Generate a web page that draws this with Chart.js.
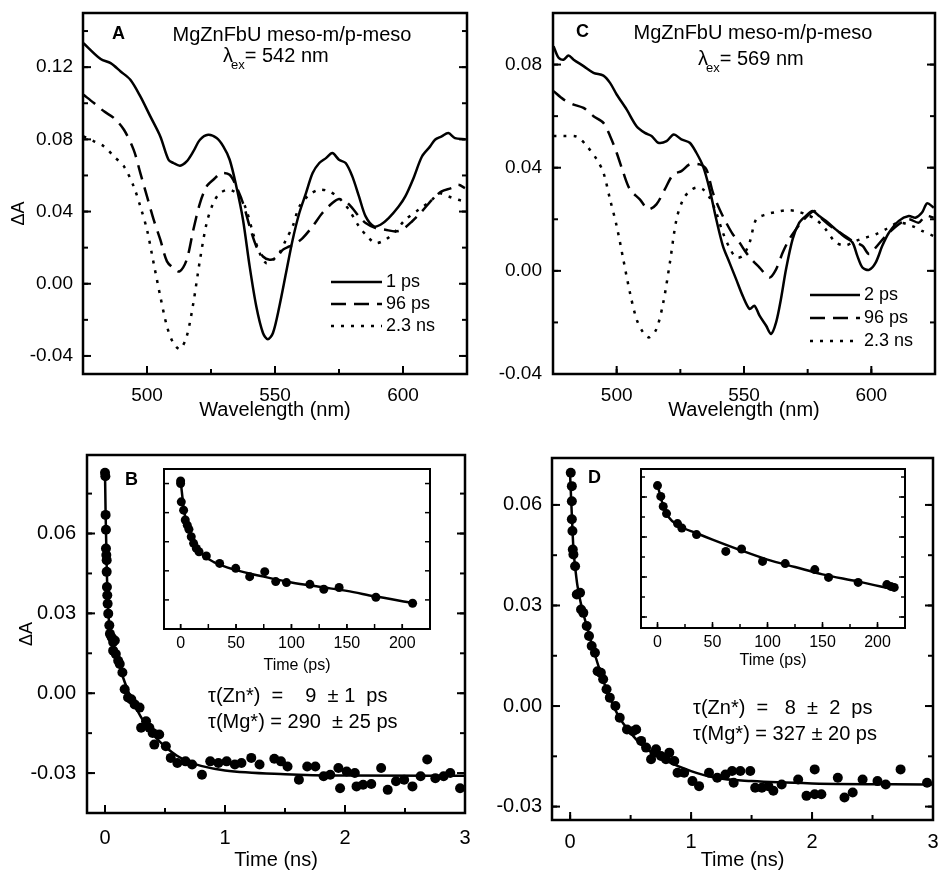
<!DOCTYPE html>
<html>
<head>
<meta charset="utf-8">
<script src="https://cdn.jsdelivr.net/npm/chart.js@4.4.1/dist/chart.umd.min.js"></script>
<style>
  body { margin: 0; background: #fff; }
  #wrap { position: relative; width: 938px; height: 872px; }
  canvas { position: absolute; }
</style>
</head>
<body>
<div id="wrap">
  <canvas id="chartA" width="470" height="430" style="left:0;top:0"></canvas>
  <canvas id="chartC" width="468" height="430" style="left:470px;top:0"></canvas>
  <canvas id="chartB" width="470" height="442" style="left:0;top:430px"></canvas>
  <canvas id="chartD" width="468" height="442" style="left:470px;top:430px"></canvas>
  <canvas id="insetB" width="305" height="215" style="left:130px;top:460px"></canvas>
  <canvas id="insetD" width="310" height="215" style="left:600px;top:460px"></canvas>
</div>
<script>
// Spectra, panel A (excitation 542 nm): [wavelength nm, deltaA]
const specA_1ps = [[475.2,0.1333],[481.9,0.1245],[485.8,0.1222],[489.7,0.1176],[493.5,0.113],[497.4,0.1038],[501.3,0.0927],[505.2,0.0816],[508.4,0.0687],[510.3,0.0669],[512.9,0.0654],[515.5,0.0678],[518.1,0.0733],[520.7,0.0798],[523.9,0.0825],[527.2,0.0807],[529.8,0.0761],[532.3,0.0687],[534.9,0.0539],[537.5,0.0355],[540.1,0.0096],[542.7,-0.0126],[545.3,-0.0273],[547.2,-0.0307],[549.2,-0.0273],[551.7,-0.0126],[554.3,0.0059],[556.9,0.0244],[559.5,0.0392],[562.1,0.0502],[564.7,0.0613],[567.3,0.0669],[569.9,0.0696],[572.4,0.0724],[575.0,0.0687],[577.6,0.0669],[580.2,0.0595],[582.8,0.0484],[585.4,0.0373],[588.6,0.0318],[591.2,0.0327],[594.4,0.0364],[598.3,0.0428],[600.9,0.0484],[604.1,0.0585],[607.4,0.0705],[610.6,0.0761],[612.5,0.0798],[615.1,0.0816],[617.7,0.0835],[620.3,0.0807],[624.2,0.0801]];
const specA_96ps = [[475.2,0.1047],[479.3,0.1001],[483.2,0.0955],[487.1,0.0918],[491.0,0.0853],[494.8,0.0742],[497.4,0.0613],[500.0,0.0484],[502.6,0.0355],[505.2,0.0244],[507.8,0.0124],[510.3,0.0087],[512.7,0.0068],[515.5,0.0133],[518.1,0.0299],[520.7,0.0447],[523.3,0.0539],[525.9,0.0576],[529.1,0.0613],[532.3,0.0604],[534.9,0.0539],[537.5,0.0447],[540.1,0.0318],[542.7,0.0207],[545.3,0.0151],[547.9,0.0133],[550.5,0.0142],[553.0,0.0188],[555.6,0.0207],[558.2,0.0225],[560.8,0.0253],[564.7,0.0318],[568.5,0.0392],[572.4,0.0447],[575.0,0.0469],[577.6,0.0456],[580.2,0.0419],[582.8,0.0373],[585.4,0.0336],[589.3,0.0308],[593.1,0.0299],[597.0,0.029],[599.6,0.0299],[603.5,0.0345],[607.4,0.0401],[611.3,0.0465],[615.1,0.0512],[619.0,0.053],[621.6,0.0548],[624.2,0.053]];
const specA_2ns = [[475.2,0.0816],[479.3,0.0789],[483.2,0.0761],[487.1,0.0705],[491.0,0.065],[494.8,0.0539],[497.4,0.0428],[500.0,0.0299],[502.6,0.0114],[505.2,-0.007],[507.8,-0.0236],[510.3,-0.0329],[512.9,-0.0362],[515.5,-0.0292],[518.1,-0.0107],[520.7,0.0133],[523.3,0.0336],[525.9,0.0447],[528.5,0.0502],[532.3,0.0521],[536.2,0.0484],[538.8,0.041],[541.4,0.0281],[544.0,0.017],[546.6,0.0114],[549.2,0.0133],[551.7,0.017],[554.3,0.0244],[556.9,0.0318],[559.5,0.0428],[563.4,0.0493],[567.3,0.0521],[571.1,0.0512],[575.0,0.0475],[578.9,0.041],[582.8,0.0318],[586.7,0.0253],[589.3,0.0225],[593.1,0.0244],[597.0,0.029],[600.9,0.0355],[606.1,0.041],[611.3,0.0465],[613.8,0.0502],[617.7,0.0484],[621.6,0.0465],[624.2,0.0456]];

// Spectra, panel C (excitation 569 nm)
const specC_2ps = [[475.2,0.0871],[477.2,0.0826],[479.1,0.0819],[481.1,0.0835],[483.1,0.0819],[487.0,0.0794],[490.9,0.0768],[494.8,0.0757],[497.4,0.0729],[500.0,0.0684],[503.9,0.0626],[507.8,0.0561],[511.1,0.0535],[513.7,0.0523],[516.3,0.0497],[519.6,0.0503],[522.4,0.0529],[525.4,0.051],[528.7,0.0497],[531.3,0.0458],[533.9,0.0406],[536.5,0.0316],[539.1,0.02],[541.7,0.0097],[544.3,0.0032],[546.9,-0.0032],[549.5,-0.0097],[552.2,-0.0148],[554.1,-0.0135],[556.1,-0.0174],[558.7,-0.0213],[560.6,-0.0245],[562.6,-0.02],[564.5,-0.011],[566.5,0.0006],[569.1,0.0123],[571.7,0.0187],[574.3,0.0213],[576.9,0.0232],[579.5,0.0213],[582.1,0.0194],[586.0,0.0161],[589.9,0.0129],[592.6,0.011],[594.5,0.0058],[596.5,0.0013],[599.1,0.0004],[601.7,0.0032],[604.3,0.0097],[606.9,0.0148],[610.8,0.0194],[614.7,0.0213],[617.3,0.0206],[619.9,0.0226],[621.9,0.0262],[624.5,0.0245]];
const specC_96ps = [[475.2,0.0697],[479.1,0.0665],[483.1,0.0645],[487.0,0.0632],[490.9,0.06],[494.8,0.0574],[497.4,0.0523],[500.0,0.0458],[502.6,0.0381],[505.2,0.0316],[509.1,0.0277],[512.4,0.0239],[515.6,0.0258],[518.9,0.0316],[522.2,0.0374],[525.4,0.0387],[528.7,0.0413],[532.6,0.0413],[535.2,0.0394],[537.8,0.0303],[540.4,0.0239],[543.0,0.0187],[545.6,0.0142],[548.2,0.011],[550.8,0.0071],[553.5,0.0039],[556.1,0.0013],[560.0,-0.0026],[562.6,0.0006],[565.2,0.0071],[567.8,0.0123],[570.4,0.0161],[573.0,0.0194],[575.6,0.0219],[577.6,0.0232],[580.8,0.02],[584.7,0.0168],[588.7,0.0142],[592.6,0.0116],[596.5,0.0097],[599.1,0.0065],[601.7,0.009],[605.6,0.0135],[610.8,0.0181],[614.7,0.02],[618.6,0.0187],[621.3,0.0213],[624.5,0.0206]];
const specC_2ns = [[475.2,0.0523],[479.1,0.0523],[484.4,0.052],[488.3,0.0484],[492.2,0.0432],[494.8,0.0381],[497.4,0.0277],[500.0,0.0174],[502.6,0.0045],[505.2,-0.0084],[507.8,-0.0187],[510.4,-0.0239],[512.8,-0.0258],[515.6,-0.0226],[518.3,-0.0123],[520.9,0.0032],[523.5,0.02],[526.1,0.0277],[528.7,0.031],[531.3,0.0323],[533.9,0.0316],[536.5,0.0284],[539.1,0.0226],[541.7,0.0148],[544.3,0.009],[546.9,0.0052],[549.5,0.0058],[552.2,0.011],[554.8,0.02],[558.7,0.0219],[562.6,0.0228],[566.5,0.0235],[570.4,0.0232],[574.3,0.0219],[578.2,0.02],[582.1,0.0161],[586.0,0.011],[589.9,0.0099],[593.9,0.0116],[597.8,0.0129],[601.7,0.0142],[605.6,0.0161],[610.8,0.0187],[616.0,0.0174],[619.9,0.0155],[624.5,0.0135]];

// Kinetics, panel B: [time ns, deltaA]
const kinB_points = [[0,0.0828],[0.003,0.0815],[0.005,0.067],[0.008,0.0614],[0.008,0.0544],[0.011,0.0519],[0.014,0.05],[0.014,0.0456],[0.016,0.0399],[0.019,0.0368],[0.022,0.0336],[0.027,0.0299],[0.036,0.0255],[0.041,0.0223],[0.055,0.021],[0.068,0.0192],[0.082,0.0198],[0.068,0.016],[0.09,0.0147],[0.11,0.0122],[0.123,0.011],[0.145,0.0078],[0.164,0.0015],[0.192,-0.0016],[0.219,-0.0023],[0.247,-0.0042],[0.288,-0.0054],[0.301,-0.013],[0.342,-0.0105],[0.37,-0.013],[0.397,-0.0149],[0.411,-0.0193],[0.452,-0.0155],[0.507,-0.0199],[0.548,-0.0243],[0.603,-0.0262],[0.671,-0.0256],[0.726,-0.0268],[0.808,-0.0306],[0.877,-0.0256],[0.945,-0.0262],[1.014,-0.0256],[1.082,-0.0268],[1.137,-0.0262],[1.219,-0.0243],[1.288,-0.0268],[1.411,-0.0246],[1.466,-0.0256],[1.521,-0.0275],[1.616,-0.0325],[1.685,-0.0275],[1.753,-0.0275],[1.822,-0.0312],[1.877,-0.0306],[1.945,-0.0281],[1.959,-0.0357],[2.014,-0.0294],[2.082,-0.03],[2.096,-0.035],[2.151,-0.0344],[2.219,-0.0341],[2.301,-0.0281],[2.356,-0.0363],[2.425,-0.0331],[2.493,-0.0325],[2.562,-0.035],[2.63,-0.0312],[2.685,-0.0249],[2.753,-0.0319],[2.822,-0.0312],[2.877,-0.03],[2.959,-0.0357]];
const kinB_fit = [[0,0.083],[0.005,0.068],[0.01,0.057],[0.015,0.046],[0.02,0.038],[0.03,0.029],[0.04,0.024],[0.06,0.019],[0.1,0.013],[0.15,0.006],[0.2,0.0],[0.3,-0.009],[0.4,-0.0155],[0.5,-0.02],[0.6,-0.0235],[0.7,-0.0258],[0.8,-0.0273],[1.0,-0.029],[1.5,-0.0304],[2.0,-0.0309],[3.0,-0.031]];
// inset B: [time ps, deltaA]
const insetB_points = [[0,0.0818],[0,0.08],[0.6,0.0674],[2.7,0.0617],[4.2,0.0549],[6,0.0514],[7.5,0.0485],[9.6,0.0434],[11.7,0.0389],[14.2,0.0354],[16.6,0.0331],[23.2,0.0302],[35.2,0.0251],[49.7,0.0217],[62.3,0.016],[75.9,0.0194],[85.8,0.0126],[95.5,0.0119],[116.6,0.0107],[129.2,0.0073],[143,0.0085],[176.2,0.0018],[209.3,-0.0023]];
const insetB_fit = [[0,0.082],[3,0.062],[6,0.051],[10,0.043],[15,0.036],[20,0.031],[30,0.026],[50,0.0205],[75,0.016],[100,0.012],[125,0.009],[150,0.0062],[175,0.0025],[209,-0.002]];

// Kinetics, panel D
const kinD_points = [[0.005,0.0696],[0.014,0.0656],[0.014,0.0611],[0.014,0.0557],[0.019,0.0522],[0.022,0.0467],[0.027,0.0452],[0.041,0.0417],[0.055,0.0333],[0.082,0.0338],[0.09,0.0288],[0.109,0.0278],[0.137,0.0239],[0.156,0.0209],[0.178,0.0179],[0.205,0.0159],[0.227,0.0104],[0.254,0.0099],[0.273,0.008],[0.301,0.005],[0.328,0.0025],[0.374,0.0],[0.41,-0.0035],[0.47,-0.007],[0.519,-0.0075],[0.546,-0.007],[0.587,-0.0104],[0.628,-0.0124],[0.669,-0.0159],[0.697,-0.0139],[0.71,-0.0129],[0.751,-0.0149],[0.792,-0.0159],[0.82,-0.0139],[0.861,-0.0164],[0.888,-0.0199],[0.943,-0.0199],[1.011,-0.0224],[1.066,-0.0239],[1.148,-0.0199],[1.216,-0.0214],[1.284,-0.0204],[1.339,-0.0194],[1.352,-0.0229],[1.407,-0.0194],[1.489,-0.0194],[1.53,-0.0244],[1.585,-0.0244],[1.639,-0.0239],[1.68,-0.0253],[1.749,-0.0234],[1.885,-0.0219],[1.954,-0.0268],[2.022,-0.0189],[2.022,-0.0263],[2.077,-0.0263],[2.213,-0.0214],[2.268,-0.0273],[2.336,-0.0258],[2.418,-0.0219],[2.541,-0.0224],[2.609,-0.0234],[2.732,-0.0189],[2.951,-0.0229]];
const kinD_fit = [[0,0.0686],[0.014,0.057],[0.027,0.047],[0.04,0.042],[0.06,0.036],[0.1,0.0288],[0.15,0.0224],[0.2,0.0159],[0.3,0.005],[0.4,-0.003],[0.5,-0.008],[0.6,-0.0119],[0.7,-0.0144],[0.8,-0.0164],[1.0,-0.0194],[1.2,-0.0214],[1.5,-0.0224],[2.0,-0.0231],[3.0,-0.0234]];
const insetD_points = [[0,0.0657],[3.0,0.0603],[5.2,0.0553],[8.2,0.0517],[18.2,0.0467],[22.1,0.0445],[35.5,0.0412],[62.1,0.0328],[76.4,0.034],[95.5,0.0278],[116.1,0.0267],[143,0.0237],[155.5,0.0198],[182.4,0.0173],[208.5,0.0162],[212.1,0.0153],[215.2,0.0148]];
const insetD_fit = [[0,0.066],[5,0.056],[10,0.05],[20,0.0455],[35,0.042],[50,0.0387],[75,0.0335],[100,0.0287],[125,0.025],[150,0.0213],[182,0.0178],[215,0.0137]];

const FONT = "'Liberation Sans', Arial, Helvetica, sans-serif";
Chart.defaults.font.family = FONT;
Chart.defaults.color = '#000';

// Box frame with inward tick marks, drawn from the chart's own scales
const frameTicks = {
    id: 'frameTicks',
    beforeDatasetsDraw(chart, args, opts) {
        if (!opts.fill) return;
        const a = chart.chartArea;
        chart.ctx.save();
        chart.ctx.fillStyle = '#fff';
        chart.ctx.fillRect(a.left, a.top, a.right - a.left, a.bottom - a.top);
        chart.ctx.restore();
    },
    afterDraw(chart, args, opts) {
        const ctx = chart.ctx;
        const a = chart.chartArea;
        const xs = chart.scales.x, ys = chart.scales.y;
        const seg = (x1, y1, x2, y2) => { ctx.beginPath(); ctx.moveTo(x1, y1); ctx.lineTo(x2, y2); ctx.stroke(); };
        const minors = (scale, step) => {
            const out = [];
            if (!step) return out;
            for (let k = Math.ceil(scale.min / step - 1e-6); k <= Math.floor(scale.max / step + 1e-6); k++) out.push(k * step);
            return out;
        };
        ctx.save();
        ctx.strokeStyle = '#000';
        ctx.lineWidth = opts.tickWidth || 2;
        // x ticks on bottom edge
        minors(xs, opts.xMinor).forEach(v => { const p = xs.getPixelForValue(v); seg(p, a.bottom, p, a.bottom - opts.minorLen); });
        xs.ticks.forEach(t => { const p = xs.getPixelForValue(t.value); seg(p, a.bottom, p, a.bottom - opts.majorLen); });
        // y ticks on left and right edges
        minors(ys, opts.yMinor).forEach(v => {
            const p = ys.getPixelForValue(v);
            seg(a.left, p, a.left + opts.minorLen, p);
            seg(a.right, p, a.right - opts.minorLen, p);
        });
        ys.ticks.forEach(t => {
            const p = ys.getPixelForValue(t.value);
            seg(a.left, p, a.left + opts.majorLen, p);
            seg(a.right, p, a.right - opts.majorLen, p);
        });
        ctx.lineWidth = opts.frameWidth || 2.5;
        ctx.strokeRect(a.left, a.top, a.right - a.left, a.bottom - a.top);
        ctx.restore();
    }
};

// Legend drawn as line samples inside the plot
const lineLegend = {
    id: 'lineLegend',
    afterDraw(chart, args, opts) {
        if (opts.x === undefined) return;
        const ctx = chart.ctx;
        ctx.save();
        ctx.strokeStyle = '#000';
        ctx.fillStyle = '#000';
        ctx.textBaseline = 'middle';
        ctx.font = opts.font;
        chart.data.datasets.forEach((ds, i) => {
            const y = opts.y + i * opts.gap;
            ctx.lineWidth = ds.borderWidth;
            ctx.setLineDash(ds.borderDash || []);
            ctx.beginPath();
            ctx.moveTo(opts.x, y);
            ctx.lineTo(opts.x + opts.len, y);
            ctx.stroke();
            ctx.setLineDash([]);
            ctx.fillText(ds.label, opts.x + opts.len + 4, y);
        });
        ctx.restore();
    }
};

// Free text: panel letters, titles, lifetimes
const notes = {
    id: 'notes',
    afterDraw(chart, args, opts) {
        if (!opts.items) return;
        const ctx = chart.ctx;
        ctx.save();
        ctx.fillStyle = '#000';
        ctx.textBaseline = 'middle';
        opts.items.forEach(item => {
            if (item.parts) {
                let x = item.x;
                ctx.textAlign = 'left';
                item.parts.forEach(p => {
                    ctx.font = p.font;
                    x += p.dx || 0;
                    ctx.fillText(p.text, x, item.y + (p.dy || 0));
                    x += ctx.measureText(p.text).width;
                });
            } else {
                ctx.textAlign = item.align || 'left';
                ctx.font = item.font;
                ctx.fillText(item.text, item.x, item.y);
            }
        });
        ctx.restore();
    }
};

Chart.register(frameTicks, lineLegend, notes);

function xy(pairs) {
    return pairs.map(p => ({ x: p[0], y: p[1] }));
}

function curve(label, pairs, dash) {
    return {
        label: label, data: xy(pairs), showLine: true,
        borderColor: '#000', borderWidth: 2.5, borderDash: dash,
        pointRadius: 0, tension: 0.3, fill: false
    };
}

function fitLine(pairs) {
    return {
        label: 'fit', data: xy(pairs), showLine: true,
        borderColor: '#000', borderWidth: 2.5,
        pointRadius: 0, cubicInterpolationMode: 'monotone', fill: false
    };
}

function dots(pairs, r) {
    return {
        label: 'data', data: xy(pairs), showLine: false,
        pointRadius: r, pointBackgroundColor: '#000', pointBorderWidth: 0
    };
}

function scale(o) {
    return {
        type: 'linear', min: o.min, max: o.max,
        grid: { display: false, drawTicks: false },
        border: { display: false },
        ticks: {
            stepSize: o.step, padding: o.pad,
            maxRotation: 0, autoSkip: false, color: '#000',
            font: { size: o.font },
            callback: o.fmt
        },
        title: {
            display: !!o.title, text: o.title, color: '#000',
            font: { size: o.titleSize || 20 }, padding: o.titlePad || 0
        },
        // keep only round multiples of the step inside the axis range
        afterBuildTicks: function (s) {
            const out = [];
            for (let k = Math.ceil(s.min / o.step - 1e-6); k <= Math.floor(s.max / o.step + 1e-6); k++) {
                out.push({ value: Math.round(k * o.step * 1e6) / 1e6 });
            }
            s.ticks = out;
        },
        afterFit: function (s) {
            if (s.isHorizontal()) s.height = o.size; else s.width = o.size;
            s.paddingLeft = 0; s.paddingRight = 0; s.paddingTop = 0; s.paddingBottom = 0;
        }
    };
}

function makeChart(id, datasets, cfg) {
    return new Chart(document.getElementById(id), {
        type: 'scatter',
        data: { datasets: datasets },
        options: {
            responsive: false, animation: false, events: [],
            devicePixelRatio: 1,
            layout: { padding: cfg.padding },
            scales: { x: scale(cfg.x), y: scale(cfg.y) },
            plugins: {
                legend: { display: false }, tooltip: { enabled: false },
                frameTicks: cfg.frame,
                lineLegend: cfg.legend || {},
                notes: { items: cfg.notes }
            }
        }
    });
}

const two = v => v.toFixed(2);
const whole = v => String(v);
const none = () => '';
const bold = "bold 18px " + FONT;
const big = "20px " + FONT;
const sub = "13px " + FONT;
const mainFrame = { majorLen: 8, minorLen: 5, tickWidth: 2, frameWidth: 2.5 };

makeChart('chartA', [
    curve('1 ps', specA_1ps, []),
    curve('96 ps', specA_96ps, [15, 8]),
    curve('2.3 ns', specA_2ns, [3, 7])
], {
    padding: { top: 13, right: 3, left: 0, bottom: 0 },
    x: { min: 475, max: 625, step: 50, pad: 10, font: 19, fmt: whole, size: 56,
         title: 'Wavelength (nm)', titlePad: { top: 0, bottom: 8 } },
    y: { min: -0.05, max: 0.15, step: 0.04, pad: 10, font: 19, fmt: two, size: 83,
         title: '\u0394A        ', titleSize: 18, titlePad: { top: 8, bottom: 0 } },
    frame: Object.assign({ xMinor: 25, yMinor: 0.02 }, mainFrame),
    legend: { x: 331, y: 282, gap: 22, len: 51, font: "18px " + FONT },
    notes: [
        { text: 'A', x: 112, y: 34, font: bold },
        { text: 'MgZnFbU meso-m/p-meso', x: 292, y: 35, font: big, align: 'center' },
        { x: 223, y: 56, parts: [
            { text: '\u03bb', font: big },
            { text: 'ex', font: sub, dy: 9, dx: -2 },
            { text: '= 542 nm', font: big } ] }
    ]
});

makeChart('chartC', [
    curve('2 ps', specC_2ps, []),
    curve('96 ps', specC_96ps, [15, 8]),
    curve('2.3 ns', specC_2ns, [3, 7])
], {
    padding: { top: 13, right: 3, left: 0, bottom: 0 },
    x: { min: 475, max: 625, step: 50, pad: 10, font: 19, fmt: whole, size: 56,
         title: 'Wavelength (nm)', titlePad: { top: 0, bottom: 8 } },
    y: { min: -0.04, max: 0.1, step: 0.04, pad: 11, font: 19, fmt: two, size: 83 },
    frame: Object.assign({ xMinor: 25, yMinor: 0.02 }, mainFrame),
    legend: { x: 340, y: 295, gap: 23, len: 50, font: "18px " + FONT },
    notes: [
        { text: 'C', x: 106, y: 32, font: bold },
        { text: 'MgZnFbU meso-m/p-meso', x: 283, y: 33, font: big, align: 'center' },
        { x: 228, y: 59, parts: [
            { text: '\u03bb', font: big },
            { text: 'ex', font: sub, dy: 9, dx: -2 },
            { text: '= 569 nm', font: big } ] }
    ]
});

makeChart('chartB', [fitLine(kinB_fit), dots(kinB_points, 5)], {
    padding: { top: 25, right: 2, left: 0, bottom: 0 },
    x: { min: -0.15, max: 3, step: 1, pad: 13, font: 20, fmt: whole, size: 59,
         title: 'Time (ns)', titlePad: { top: 0, bottom: 0 } },
    y: { min: -0.045, max: 0.0895, step: 0.03, pad: 11, font: 20, fmt: two, size: 87,
         title: '\u0394A', titleSize: 18, titlePad: { top: 16, bottom: 0 } },
    frame: Object.assign({ xMinor: 0.5, yMinor: 0.015 }, mainFrame),
    notes: [
        { text: 'B', x: 125, y: 50, font: bold },
        { text: '\u03c4(Zn*)  =    9  \u00b1 1  ps', x: 208, y: 266, font: big },
        { text: '\u03c4(Mg*) = 290  \u00b1 25 ps', x: 208, y: 292, font: big }
    ]
});

makeChart('chartD', [fitLine(kinD_fit), dots(kinD_points, 5)], {
    padding: { top: 28, right: 3, left: 0, bottom: 0 },
    x: { min: -0.15, max: 3, step: 1, pad: 10, font: 20, fmt: whole, size: 52,
         title: 'Time (ns)', titlePad: { top: 0, bottom: 0 } },
    y: { min: -0.034, max: 0.074, step: 0.03, pad: 10, font: 20, fmt: two, size: 82 },
    frame: Object.assign({ xMinor: 0.5, yMinor: 0.015 }, mainFrame),
    notes: [
        { text: 'D', x: 118, y: 48, font: bold },
        { text: '\u03c4(Zn*)  =   8  \u00b1  2  ps', x: 223, y: 278, font: big },
        { text: '\u03c4(Mg*) = 327 \u00b1 20 ps', x: 223, y: 304, font: big }
    ]
});

makeChart('insetB', [fitLine(insetB_fit), dots(insetB_points, 4.5)], {
    padding: { top: 9, right: 5, left: 0, bottom: 0 },
    x: { min: -15, max: 225, step: 50, pad: 5, font: 16, fmt: whole, size: 46,
         title: 'Time (ps)', titleSize: 16, titlePad: { top: 0, bottom: 0 } },
    y: { min: -0.02, max: 0.09, step: 0.02, pad: 0, font: 10, fmt: none, size: 34 },
    frame: { xMinor: 25, yMinor: 0, majorLen: 5, minorLen: 5, tickWidth: 1.5, frameWidth: 2, fill: true }
});

makeChart('insetD', [fitLine(insetD_fit), dots(insetD_points, 4.5)], {
    padding: { top: 9, right: 5, left: 0, bottom: 0 },
    x: { min: -15, max: 225, step: 50, pad: 5, font: 16, fmt: whole, size: 47,
         title: 'Time (ps)', titleSize: 16, titlePad: { top: 0, bottom: 5 } },
    y: { min: -0.0055, max: 0.074, step: 0.02, pad: 0, font: 10, fmt: none, size: 41 },
    frame: { xMinor: 25, yMinor: 0.01, majorLen: 6, minorLen: 4, tickWidth: 1.5, frameWidth: 2, fill: true }
});
</script>
</body>
</html>
